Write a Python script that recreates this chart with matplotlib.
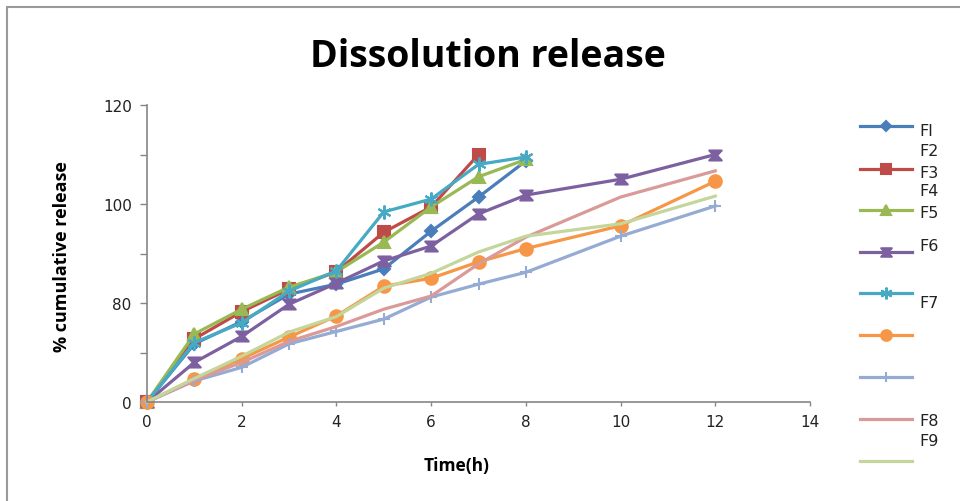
import numpy as np
import matplotlib
matplotlib.use('Agg')
import matplotlib.pyplot as plt
from matplotlib.lines import Line2D
from matplotlib.patches import Rectangle
from matplotlib.path import Path

# time points (h)
time = [0, 1, 2, 3, 4, 5, 6, 7, 8, 10, 12]

# % cumulative release
F1 = [0, 47, 65, 81.8, 83.8, 86.9, 94.5, 101.4, 108.7]
F2 = [0, 51, 73, 82.8, 86.3, 94.3, 99.4, 110]
F3 = [0, 55, 75, 83.2, 86.3, 92.3, 99.4, 105.5, 109]
F4 = [0, 32, 53, 79, 84, 88.5, 91.5, 98, 101.8, 105, 110]
F5 = [0, 48, 64, 82.4, 86.5, 98.4, 101, 108, 109.5]
F6 = [0, 18.6, 35, 52.5, 69.5, 83.4, 85, 88.3, 91, 95.6, 104.6]
F7 = [0, 17, 28, 47, 57, 67, 81.2, 83.8, 86.2, 93.5, 99.6]
F8 = [0, 17.5, 32, 49, 61, 75, 81.4, 87.9, 93.3, 101.4, 106.7]
F9 = [0, 19, 37, 56.5, 69, 83, 86, 90.3, 93.5, 96, 101.6]

series = [F1, F2, F3, F4, F5, F6, F7, F8, F9]
legend_text = [('Fl', 132), ('F2', 152), ('F3', 173), ('F4', 192), ('F5', 213),
               ('F6', 247), ('F7', 303), ('F8', 422), ('F9', 442)]

colors = ['#4A7EBB', '#BE4B48', '#98B954', '#7D60A0', '#46AAC5',
          '#F79646', '#95ABD3', '#D99A98', '#C3D69B']

# hourglass marker like the excel one
hourglass = Path([(-1, 0.8), (1, 0.8), (0.25, 0), (1, -0.8), (-1, -0.8), (-0.25, 0), (-1, 0.8)],
                 [1, 2, 2, 2, 2, 2, 79])
markers = ['D', 's', '^', hourglass, (6, 2, 0), 'o', '+', None, None]
msizes = [6, 8, 8, 9, 10, 9, 8, 0, 0]

# the y axis of the original is not linear: 0-80 squeezed into the first two ticks
yv = [0, 80, 100, 120]
yp = [0, 40, 80, 120]


def fwd(v):
    return np.interp(v, yv, yp)


def inv(u):
    return np.interp(u, yp, yv)


W, H = 960, 502
fig = plt.figure(figsize=(9.6, 5.02), dpi=100)
ax = fig.add_axes([147 / W, 1 - 403 / H, (810 - 147) / W, (403 - 106) / H])

for i in range(len(series)):
    y = series[i]
    ax.plot(time[:len(y)], y, color=colors[i], lw=2.3, marker=markers[i],
            ms=msizes[i], mec=colors[i], mew=1.5, clip_on=False)

ax.set_yscale('function', functions=(fwd, inv))
ax.set_xlim(0, 14)
ax.set_ylim(0, 120)
ax.set_xticks([0, 2, 4, 6, 8, 10, 12, 14])
ax.set_yticks([0, 40, 80, 90, 100, 110, 120])
ax.set_yticklabels(['0', '', '80', '', '100', '', '120'])
ax.tick_params(axis='both', labelsize=11, color='#868686', length=5, width=1,
               labelcolor='#222222')
ax.tick_params(axis='y', pad=6)
ax.tick_params(axis='x', pad=6, length=3)
for s in ['top', 'right']:
    ax.spines[s].set_visible(False)
for s in ['left', 'bottom']:
    ax.spines[s].set_color('#868686')
    ax.spines[s].set_linewidth(1.2)

ax.set_xlabel('Time(h)', fontsize=12.5, fontweight='bold', family='Open Sans')
ax.xaxis.set_label_coords((457 - 147) / (810 - 147), -(466 - 403) / (403 - 106))
ax.xaxis.label.set_va('center')
ax.set_ylabel('% cumulative release', fontsize=13, fontweight='bold', family='Open Sans')
ax.yaxis.set_label_coords(-(147 - 62) / (810 - 147), (403 - 257) / (403 - 106))
ax.yaxis.label.set_va('center')

fig.text(488 / W, 1 - 57 / H, 'Dissolution release', ha='center', va='center',
         fontsize=27, fontweight='bold', family='Open Sans')

# legend drawn by hand to keep the odd label placement
hy = [127, 170, 211, 253, 294, 336, 378, 420, 462]
for i in range(len(series)):
    yy = 1 - hy[i] / H
    ln = Line2D([860 / W, 886 / W, 912 / W], [yy, yy, yy], transform=fig.transFigure,
                color=colors[i], lw=2.3, marker=markers[i], ms=msizes[i] * 0.85,
                mec=colors[i], mew=1.5, markevery=[1])
    fig.add_artist(ln)
for txt, ty in legend_text:
    fig.text(919 / W, 1 - ty / H, txt, ha='left', va='center', fontsize=11.5,
             color='#222222')

# outer chart border
fig.add_artist(Rectangle((7 / W, -0.05), 1.1, 1.05 - 8 / H, transform=fig.transFigure,
                         fill=False, ec='#9a9a9a', lw=1.5))

fig.savefig('out.png', dpi=100)
